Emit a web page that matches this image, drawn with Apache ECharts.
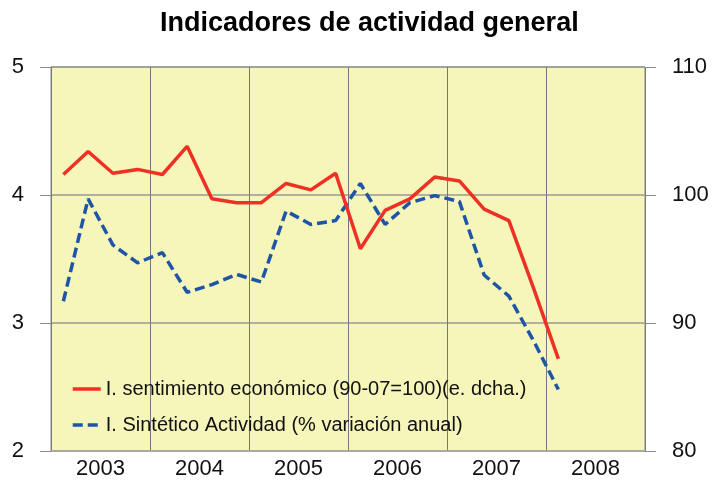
<!DOCTYPE html>
<html><head><meta charset="utf-8">
<script src="https://cdn.jsdelivr.net/npm/echarts@6/dist/echarts.min.js"></script>
<style>html,body{margin:0;padding:0;background:#fff}#c{width:714px;height:495px}</style>
</head><body><div id="c"></div>
<script>
var quarters = ['2003T1','2003T2','2003T3','2003T4','2004T1','2004T2','2004T3','2004T4','2005T1','2005T2','2005T3','2005T4','2006T1','2006T2','2006T3','2006T4','2007T1','2007T2','2007T3','2007T4','2008T1','2008T2','2008T3','2008T4'];
var years = ['2003','2004','2005','2006','2007','2008'];
var sentimiento = [101.6, 103.4, 101.7, 102.0, 101.6, 103.8, 99.7, 99.4, 99.4, 100.9, 100.4, 101.7, 95.8, 98.8, 99.7, 101.4, 101.1, 98.9, 98.0, 92.7, 87.2];
var sintetico = [3.17, 3.97, 3.61, 3.47, 3.55, 3.24, 3.30, 3.38, 3.32, 3.875, 3.77, 3.80, 4.09, 3.77, 3.94, 3.995, 3.95, 3.375, 3.21, 2.86, 2.48];
var nameRed = 'I. sentimiento económico (90-07=100)(e. dcha.)';
var nameBlue = 'I. Sintético Actividad (% variación anual)';
var FONT = 'Liberation Sans';
var chart = echarts.init(document.getElementById('c'));
chart.setOption({
  animation: false,
  textStyle: {fontFamily: FONT},
  title: {text: 'Indicadores de actividad general', left: 155, top: 5,
    textStyle: {fontFamily: FONT, fontSize: 27, fontWeight: 'bold', color: '#000'}},
  grid: {left: 51, right: 69, top: 67, bottom: 44, show: true, backgroundColor: '#f6f5ba', borderColor: '#888', borderWidth: 1},
  legend: {orient: 'vertical', left: 66, top: 374, itemGap: 16, itemWidth: 28, itemHeight: 22,
    data: [nameRed, nameBlue],
    itemStyle: {opacity: 0},
    lineStyle: {width: 3.5},
    textStyle: {fontFamily: FONT, fontSize: 20, color: '#111'}},
  xAxis: [
    {type: 'category', data: quarters, boundaryGap: true, show: false},
    {type: 'category', data: years, boundaryGap: true, position: 'bottom',
      axisLine: {show: true, lineStyle: {color: '#aaa', width: 1.5}},
      axisTick: {show: false},
      splitLine: {show: true, lineStyle: {color: '#777', width: 1}},
      axisLabel: {fontFamily: FONT, fontSize: 22, color: '#111', margin: 7}}
  ],
  yAxis: [
    {type: 'value', min: 2, max: 5, interval: 1, position: 'left',
      axisLine: {show: false},
      axisTick: {show: true, length: 11, lineStyle: {color: '#888'}},
      splitLine: {show: true, lineStyle: {color: '#999', width: 1.5}},
      axisLabel: {fontFamily: FONT, fontSize: 22, color: '#111', margin: 27}},
    {type: 'value', min: 80, max: 110, interval: 10, position: 'right',
      axisLine: {show: false},
      axisTick: {show: true, length: 11, lineStyle: {color: '#888'}},
      splitLine: {show: false},
      axisLabel: {fontFamily: FONT, fontSize: 22, color: '#111', margin: 27}}
  ],
  series: [
    {name: nameBlue, type: 'line', xAxisIndex: 0, yAxisIndex: 0, data: sintetico, symbol: 'none',
      lineStyle: {color: '#1f55a6', width: 3.5, type: [10, 5]}, itemStyle: {color: '#1f55a6'}},
    {name: nameRed, type: 'line', xAxisIndex: 0, yAxisIndex: 1, data: sentimiento, symbol: 'none',
      lineStyle: {color: '#ee3124', width: 3.5}, itemStyle: {color: '#ee3124'}}
  ]
});
</script></body></html>
